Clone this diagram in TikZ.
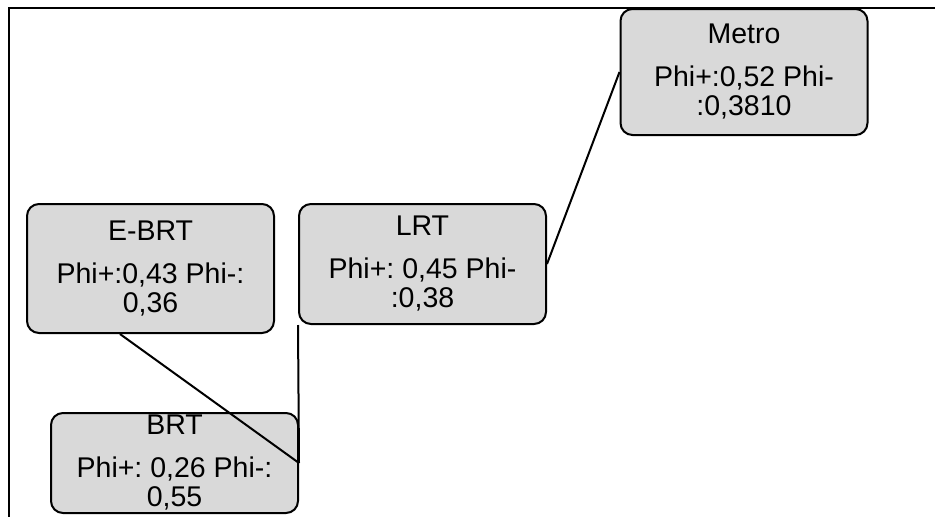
\documentclass[tikz,border=0pt]{standalone}
\usepackage{fontspec}
\setmainfont{Liberation Sans}
\usetikzlibrary{positioning}
\definecolor{boxgray}{HTML}{D9D9D9}
\frenchspacing

\begin{document}
\begin{tikzpicture}[x=1pt, y=-1pt,
  mode/.style={draw=black, line width=2pt, rounded corners=12pt, fill=boxgray,
               align=center, inner sep=0pt, minimum width=247pt,
               font=\fontsize{28.5}{29}\selectfont},
  link/.style={line width=2pt, black},
]

% Page area and the frame lines (top and left).
\useasboundingbox (0,0) rectangle (935,517);
\draw[line width=2pt] (9,517) -- (9,8) -- (935,8);

% Transport modes with their flows.
\node[mode, minimum height=126pt] (metro) at (744,72)
  {Metro\\[14pt] Phi+:0,52 Phi-\\:0,3810};
\node[mode, minimum height=129pt] (ebrt) at (150.5,268.5)
  {E-BRT\\[14pt] Phi+:0,43 Phi-:\\0,36};
\node[mode, minimum height=120pt] (lrt) at (422.5,264)
  {LRT\\[14pt] Phi+: 0,45 Phi-\\:0,38};
\node[mode, minimum height=100pt] (brt) at (174.5,463)
  {BRT\\[14pt] Phi+: 0,26 Phi-:\\0,55};

% Connectors.
\draw[link] (ebrt.245) -- (brt.east);
\draw[link] (lrt.south west) -- (brt.east);
\draw[link] (lrt.east) -- (metro.west);

\end{tikzpicture}
\end{document}
